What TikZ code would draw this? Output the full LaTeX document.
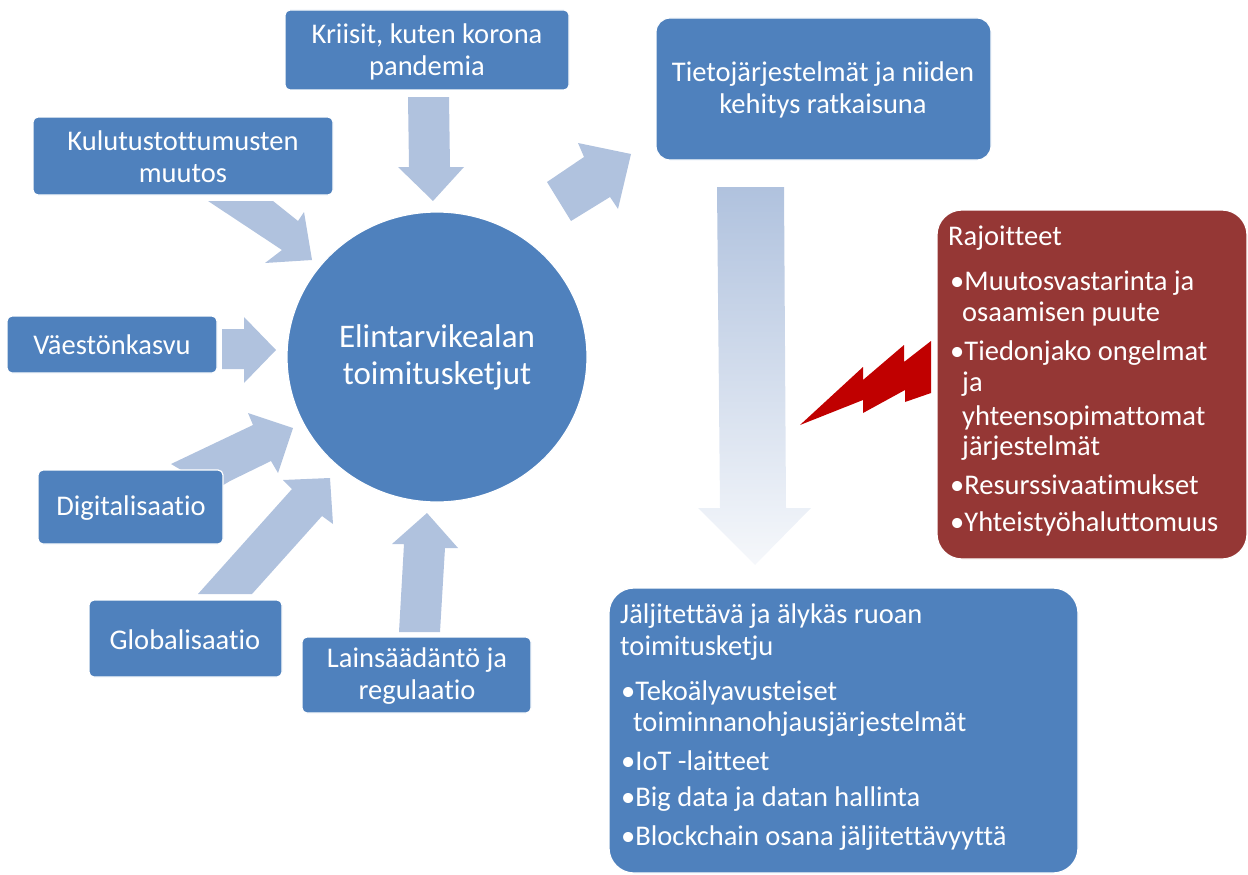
\documentclass[tikz,border=0pt]{standalone}
\usepackage{fontspec}
\setmainfont[Ligatures=NoCommon]{Carlito}
\definecolor{boxblue}{HTML}{4F81BD}
\definecolor{arrowblue}{HTML}{B0C2DE}
\definecolor{limitred}{HTML}{953735}
\definecolor{boltred}{HTML}{C00000}
\begin{document}
\begin{tikzpicture}[x=1pt, y=-1pt, every text node part/.style={align=center},
    every node/.style={text=white, font=\fontsize{28.5}{32}\selectfont},
    factor/.style={fill=boxblue, draw=white, line width=1.2pt, rounded corners=5pt},
    listline/.style={anchor=west, inner sep=0pt, text height=0.7em, text depth=0.2em, yshift=-6pt}]
    \useasboundingbox (0,0) rectangle (1248,875);

    % inflow arrows
    \fill[arrowblue] (408,97) -- (449,97) -- (450,167) -- (464,167) -- (433,201) -- (398,167) -- (409,167) -- cycle;
    \fill[arrowblue] (208,201) -- (273,201) -- (298,221) -- (304,212) -- (312,260) -- (265,263) -- (282,250) -- cycle;
    \fill[arrowblue] (222,329) -- (244,329) -- (244,317) -- (276,350) -- (244,383) -- (244,369) -- (222,369) -- cycle;
    \fill[arrowblue] (171,464) -- (253,425) -- (248,413) -- (293,428) -- (278,473) -- (271,461) -- (230,481) -- (215,490) -- cycle;
    \fill[arrowblue] (198,594) -- (292,489) -- (283,480) -- (330,478) -- (333,524) -- (322,516) -- (252,594) -- cycle;
    \fill[arrowblue] (399,632) -- (404,544) -- (392,544) -- (427,513) -- (458,548) -- (445,548) -- (440,632) -- cycle;
    \fill[arrowblue] (547,182) -- (584,157) -- (578,143) -- (631,154) -- (618,209) -- (610,197) -- (571,221) -- cycle;
    \shade[top color=arrowblue, bottom color=arrowblue!12] (717,187) -- (784,187) -- (786,508) -- (811,508) -- (755,565) -- (698,508) -- (720,508) -- cycle;

    % centre
    \draw[fill=boxblue, draw=white, line width=1.2pt] (437,357) ellipse [x radius=150pt, y radius=145pt];
    \node(Chain) at (437,357)[font=\fontsize{33}{37}\selectfont]{Elintarvikealan\\toimitusketjut};

    % factors
    \draw[factor] (285,10) rectangle (569,90);
    \node(Crises) at (427,52){Kriisit, kuten korona\\pandemia};
    \draw[factor] (33,117) rectangle (333,195);
    \node(Habits) at (183,157){Kulutustottumusten\\muutos};
    \draw[factor] (7,316) rectangle (217,373);
    \node(Growth) at (112,345){Väestönkasvu};
    \draw[factor] (38,470) rectangle (223,544);
    \node(Digital) at (131,508){Digitalisaatio};
    \draw[factor] (89,600) rectangle (282,677);
    \node(Global) at (185,640){Globalisaatio};
    \draw[factor] (302,637) rectangle (531,713);
    \node(Law) at (417,676){Lainsäädäntö ja\\regulaatio};

    % solution
    \draw[factor, rounded corners=14pt] (656,18) rectangle (991,160);
    \node(Systems) at (823,90){Tietojärjestelmät ja niiden\\kehitys ratkaisuna};

    % limitations
    \fill[boltred] (800,425) -- (863,367) -- (863,380) -- (904,345) -- (904,362) -- (931,341) -- (931,393) -- (905,402) -- (905,390) -- (863,413) -- (863,400) -- cycle;
    \draw[fill=limitred, draw=white, line width=1.2pt, rounded corners=25pt] (937,210) rectangle (1247,559);
    \node(Limits) at (948,237)[listline]{Rajoitteet};
    \node(LimA) at (950,282)[listline]{•Muutosvastarinta ja};
    \node(LimAb) at (962,313)[listline]{osaamisen puute};
    \node(LimB) at (950,352)[listline]{•Tiedonjako ongelmat};
    \node(LimBb) at (962,383)[listline]{ja};
    \node(LimBc) at (962,417)[listline]{yhteensopimattomat};
    \node(LimBd) at (962,447)[listline]{järjestelmät};
    \node(LimC) at (950,486)[listline]{•Resurssivaatimukset};
    \node(LimD) at (950,523)[listline]{•Yhteistyöhaluttomuus};

    % outcome
    \draw[fill=boxblue, draw=white, line width=1.2pt, rounded corners=25pt] (609,588) rectangle (1078,873);
    \node(Smart) at (620,615)[listline]{Jäljitettävä ja älykäs ruoan};
    \node(Smartb) at (620,647)[listline]{toimitusketju};
    \node(SmA) at (621,692)[listline]{•Tekoälyavusteiset};
    \node(SmAb) at (633,723)[listline]{toiminnanohjausjärjestelmät};
    \node(SmB) at (621,762)[listline]{•IoT -laitteet};
    \node(SmC) at (621,798)[listline]{•Big data ja datan hallinta};
    \node(SmD) at (621,837)[listline]{•Blockchain osana jäljitettävyyttä};
\end{tikzpicture}
\end{document}
